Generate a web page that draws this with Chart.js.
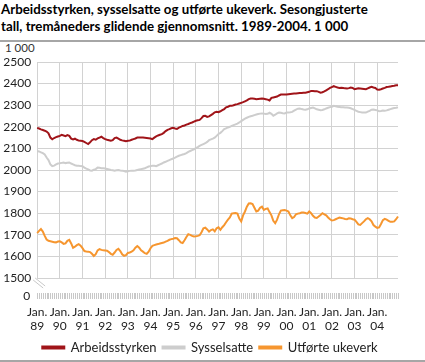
<!DOCTYPE html>
<html>
<head>
<meta charset="utf-8">
<title>Arbeidsstyrken, sysselsatte og utførte ukeverk</title>
<script src="https://cdn.jsdelivr.net/npm/chart.js"></script>
<style>
  html, body { margin: 0; padding: 0; background: #fff; overflow: hidden; }
  body { width: 425px; height: 362px; position: relative; font-family: Lato, sans-serif; }
  #title { position: absolute; left: 1px; top: 1px; font-weight: bold; font-size: 13.3px; line-height: 17px; color: #000; }
  #rule1 { position: absolute; left: 0; top: 40px; width: 425px; height: 2px; background: #a6a6a6; }
  #rule2 { position: absolute; left: 0; top: 360px; width: 425px; height: 2px; background: #a6a6a6; }
  #unit { position: absolute; left: 5px; top: 41px; font-size: 11.5px; color: #333; }
  #wrap { position: absolute; left: 0; top: 0; width: 425px; height: 364px; }
</style>
</head>
<body>
<div id="title">Arbeidsstyrken, sysselsatte og utførte ukeverk. Sesongjusterte<br>tall, tremåneders glidende gjennomsnitt. 1989-2004. 1 000</div>
<div id="rule1"></div>
<div id="unit">1 000</div>
<div id="wrap"><canvas id="chart"></canvas></div>
<div id="rule2"></div>
<script>
var years = ['89', '90', '91', '92', '93', '94', '95', '96', '97', '98', '99', '00', '01', '02', '03', '04'];

var arbeidsstyrken = [
  2195, 2192, 2188, 2185, 2182, 2178, 2170, 2150, 2142, 2148, 2152, 2155,
  2158, 2163, 2160, 2157, 2162, 2158, 2145, 2142, 2145, 2140, 2136, 2135,
  2134, 2130, 2125, 2120, 2128, 2138, 2143, 2140, 2146, 2150, 2154, 2148,
  2143, 2140, 2138, 2136, 2138, 2148, 2150, 2145, 2140, 2137, 2135, 2133,
  2135, 2136, 2140, 2143, 2146, 2150, 2150, 2151, 2150, 2149, 2148, 2147,
  2146, 2143, 2150, 2156, 2160, 2163, 2166, 2172, 2180, 2186, 2189, 2193,
  2195, 2192, 2190, 2196, 2200, 2204, 2206, 2210, 2213, 2217, 2220, 2224,
  2228, 2230, 2232, 2240, 2250, 2251, 2246, 2248, 2254, 2260, 2267, 2270,
  2268, 2272, 2277, 2282, 2290, 2293, 2297, 2297, 2300, 2303, 2305, 2308,
  2311, 2314, 2318, 2322, 2328, 2331, 2331, 2330, 2328, 2329, 2330, 2331,
  2330, 2328, 2326, 2322, 2334, 2336, 2338, 2340, 2345, 2349, 2349, 2349,
  2350, 2351, 2352, 2353, 2354, 2354, 2355, 2356, 2357, 2358, 2358, 2360,
  2362, 2366, 2366, 2365, 2365, 2362, 2358, 2360, 2364, 2369, 2374, 2380,
  2384, 2388, 2385, 2382, 2380, 2381, 2380, 2378, 2377, 2379, 2382, 2380,
  2374, 2376, 2378, 2377, 2376, 2375, 2374, 2378, 2382, 2385, 2382, 2380,
  2373, 2372, 2374, 2377, 2380, 2384, 2385, 2387, 2389, 2390, 2392, 2392
];

var sysselsatte = [
  2088, 2086, 2082, 2078, 2072, 2058, 2046, 2026, 2018, 2020, 2026, 2030,
  2031, 2033, 2035, 2032, 2034, 2035, 2030, 2026, 2022, 2020, 2020, 2018,
  2017, 2011, 2006, 2003, 1998, 1997, 2002, 2004, 2011, 2010, 2008, 2008,
  2007, 2005, 2003, 2000, 1999, 1997, 1999, 2000, 1998, 1997, 1995, 1992,
  1994, 1996, 1997, 1997, 1998, 2000, 2002, 2004, 2006, 2008, 2012, 2016,
  2018, 2020, 2020, 2018, 2022, 2026, 2030, 2035, 2038, 2042, 2046, 2050,
  2053, 2057, 2062, 2066, 2069, 2072, 2074, 2078, 2084, 2088, 2092, 2096,
  2101, 2106, 2112, 2116, 2120, 2124, 2130, 2138, 2142, 2145, 2150, 2158,
  2167, 2172, 2180, 2189, 2193, 2197, 2200, 2204, 2208, 2211, 2215, 2220,
  2226, 2232, 2238, 2242, 2246, 2249, 2251, 2254, 2257, 2259, 2261, 2262,
  2261, 2259, 2260, 2265, 2260, 2251, 2256, 2262, 2266, 2265, 2263, 2262,
  2266, 2266, 2267, 2269, 2275, 2280, 2284, 2285, 2282, 2280, 2279, 2281,
  2285, 2287, 2289, 2285, 2281, 2279, 2277, 2278, 2281, 2285, 2288, 2291,
  2293, 2297, 2295, 2293, 2292, 2291, 2290, 2289, 2289, 2288, 2286, 2282,
  2278, 2274, 2270, 2268, 2266, 2266, 2266, 2270, 2274, 2279, 2280, 2278,
  2276, 2272, 2273, 2275, 2274, 2276, 2279, 2282, 2285, 2287, 2288, 2290
];

var ukeverk = [
  1708, 1718, 1727, 1715, 1695, 1678, 1672, 1670, 1668, 1666, 1665, 1669,
  1670, 1665, 1658, 1660, 1672, 1677, 1660, 1640, 1645, 1652, 1657, 1650,
  1638, 1625, 1623, 1622, 1620, 1612, 1602, 1610, 1628, 1634, 1630, 1628,
  1627, 1626, 1620, 1612, 1608, 1618, 1630, 1635, 1625, 1610, 1603, 1606,
  1616, 1618, 1622, 1628, 1640, 1648, 1640, 1628, 1622, 1615, 1612, 1622,
  1638, 1649, 1652, 1655, 1657, 1660, 1662, 1664, 1668, 1672, 1677, 1680,
  1682, 1685, 1684, 1675, 1665, 1662, 1675, 1690, 1703, 1700, 1695, 1692,
  1693, 1695, 1698, 1712, 1730, 1733, 1725, 1715, 1722, 1725, 1716, 1730,
  1735, 1723, 1735, 1745, 1758, 1770, 1780, 1798, 1800, 1801, 1798, 1775,
  1762, 1790, 1808, 1830, 1845, 1846, 1842, 1825, 1808, 1812, 1825, 1830,
  1815, 1820, 1822, 1805, 1790, 1765, 1754, 1770, 1795, 1812, 1814, 1815,
  1812, 1808, 1790, 1777, 1782, 1795, 1798, 1800, 1803, 1803, 1801, 1798,
  1808, 1800, 1788, 1780, 1778, 1785, 1792, 1800, 1795, 1790, 1780, 1772,
  1766, 1768, 1772, 1776, 1780, 1778, 1776, 1773, 1772, 1776, 1775, 1772,
  1770, 1760, 1748, 1746, 1754, 1762, 1772, 1777, 1772, 1762, 1745, 1738,
  1732, 1734, 1750, 1768, 1774, 1770, 1765, 1760, 1760, 1762, 1772, 1785
];

// one label per month, only January gets text
var labels = [];
years.forEach(function (y) {
  for (var m = 0; m < 12; m++) labels.push(m === 0 ? ['Jan.', y] : '');
});

var gridColor = '#d2d2d2';

// "0" at the foot of the y axis, the axis break and the monthly tick strip
var brokenAxis = {
  id: 'brokenAxis',
  afterDraw: function (chart) {
    var ctx = chart.ctx;
    var x = chart.scales.x;
    var area = chart.chartArea;
    var stripY = area.bottom + 15;
    ctx.save();
    ctx.strokeStyle = '#c8c8c8';
    ctx.lineWidth = 1;
    for (var i = 0; i < labels.length; i++) {
      var px = Math.round(x.getPixelForValue(i)) + 0.5;
      ctx.beginPath();
      ctx.moveTo(px, stripY);
      ctx.lineTo(px, stripY + 6);
      ctx.stroke();
    }
    ctx.beginPath();
    ctx.moveTo(area.left - 4, area.bottom + 2);
    ctx.lineTo(area.left + 6, area.bottom + 10);
    ctx.moveTo(area.left - 2, area.bottom);
    ctx.lineTo(area.left + 8, area.bottom + 8);
    ctx.stroke();
    ctx.fillStyle = '#222';
    ctx.font = '12px Lato';
    ctx.textAlign = 'right';
    ctx.textBaseline = 'middle';
    ctx.fillText('0', area.left - 7, stripY + 3);
    ctx.restore();
  }
};

new Chart(document.getElementById('chart'), {
  type: 'line',
  data: {
    labels: labels,
    datasets: [
      { label: 'Arbeidsstyrken', data: arbeidsstyrken, borderColor: '#a01419', backgroundColor: '#a01419' },
      { label: 'Sysselsatte', data: sysselsatte, borderColor: '#cdcdcd', backgroundColor: '#cdcdcd' },
      { label: 'Utførte ukeverk', data: ukeverk, borderColor: '#f6962f', backgroundColor: '#f6962f' }
    ]
  },
  options: {
    responsive: true,
    maintainAspectRatio: false,
    animation: false,
    layout: { padding: { top: 62, right: 5, left: 0, bottom: 0 } },
    elements: {
      line: { borderWidth: 2, tension: 0 },
      point: { radius: 0 }
    },
    scales: {
      x: {
        type: 'category',
        offset: false,
        afterFit: function (s) { s.height = 57; },
        grid: {
          drawTicks: false,
          color: function (c) { return c.index % 12 === 0 ? gridColor : 'rgba(0,0,0,0)'; }
        },
        border: { display: false },
        ticks: {
          autoSkip: false,
          maxRotation: 0,
          padding: 27,
          color: '#222',
          font: { family: 'Lato', size: 12 },
          callback: function (v, i) { return labels[i]; }
        }
      },
      y: {
        min: 1500,
        max: 2500,
        afterFit: function (s) { s.width = 37; },
        grid: { drawTicks: false, color: gridColor },
        border: { display: true, color: gridColor },
        ticks: {
          stepSize: 100,
          padding: 6,
          color: '#222',
          font: { family: 'Lato', size: 12 },
          callback: function (v) { return String(v); }
        }
      }
    },
    plugins: {
      tooltip: { enabled: false },
      legend: {
        position: 'bottom',
        labels: {
          boxWidth: 22,
          boxHeight: 2,
          padding: 6,
          color: '#222',
          font: { family: 'Lato', size: 13 }
        }
      }
    }
  },
  plugins: [brokenAxis]
});
</script>
</body>
</html>
